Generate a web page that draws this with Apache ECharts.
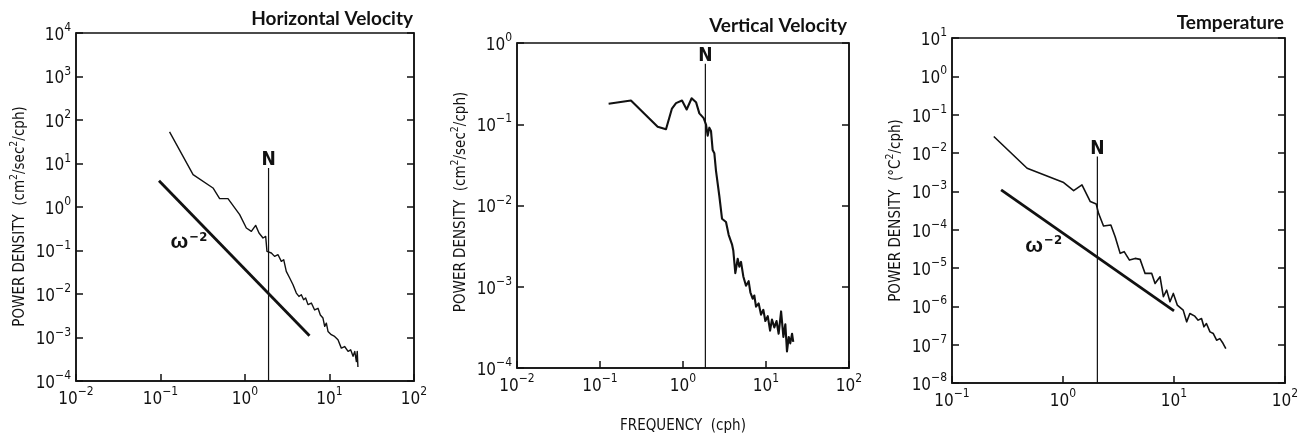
<!DOCTYPE html>
<html>
<head>
<meta charset="utf-8">
<title>Power spectra</title>
<script src="https://cdn.jsdelivr.net/npm/echarts@6/dist/echarts.min.js"></script>
<style>
  html, body { margin: 0; padding: 0; background: #fff; }
  #chart { width: 1309px; height: 439px; }
</style>
</head>
<body>
<div id="chart"></div>
<script>
// ---- Horizontal velocity spectrum (cph, cm^2/sec^2/cph)
const hFreq = [0.128, 0.243, 0.418, 0.501, 0.629, 0.865, 1.037, 1.189, 1.337, 1.465, 1.633, 1.757,
  1.82, 2.05, 2.24, 2.46, 2.69, 2.87, 3.08, 3.38, 3.70, 4.05, 4.35, 4.64, 4.94, 5.22, 5.57, 6.10,
  6.67, 7.31, 7.79, 8.37, 8.77, 9.18, 9.60, 10.5, 11.5, 12.6, 13.8, 15.1, 16.6, 17.8, 19.0, 19.9,
  20.8, 21.3, 21.7];
const hPower = [53.1, 5.55, 2.74, 1.56, 1.56, 0.667, 0.329, 0.275, 0.378, 0.252, 0.194, 0.211,
  0.0955, 0.0875, 0.0733, 0.080, 0.0562, 0.0614, 0.0331, 0.0233, 0.0163, 0.0105, 0.0088, 0.0096,
  0.0074, 0.0081, 0.0057, 0.0062, 0.0043, 0.0047, 0.0033, 0.0028, 0.0018, 0.00214, 0.00138,
  0.00116, 0.00106, 0.00089, 0.00057, 0.00062, 0.00048, 0.00052, 0.00037, 0.00048, 0.00028,
  0.00048, 0.00021];
const hSlopeFreq = [0.096, 5.8];
const hSlopePower = [4.0, 1.1e-3];
const hN = 1.9;
const hNTop = 7.9;

// ---- Vertical velocity spectrum
const vFreq = [0.127, 0.236, 0.495, 0.624, 0.736, 0.824, 0.973, 1.107, 1.271, 1.435, 1.574, 1.774,
  1.893, 1.982, 2.076, 2.174, 2.277, 2.385, 2.498, 2.742, 2.951, 3.297, 3.549, 3.893, 4.04, 4.27,
  4.56, 4.77, 5.00, 5.33, 5.74, 6.18, 6.48, 6.91, 7.23, 7.58, 8.16, 8.71, 9.29, 9.82, 10.5, 11.2,
  11.8, 12.6, 13.4, 14.2, 15.2, 16.2, 17.1, 17.9, 18.8, 19.6, 20.6, 21.3];
const vPower = [0.179, 0.196, 0.0933, 0.0867, 0.156, 0.182, 0.196, 0.152, 0.209, 0.187, 0.136,
  0.119, 0.0993, 0.0723, 0.0908, 0.0828, 0.0481, 0.0440, 0.0267, 0.0130, 0.00687, 0.00627,
  0.00436, 0.00333, 0.00277, 0.00147, 0.00221, 0.00177, 0.00202, 0.00134, 0.00103, 0.00117,
  0.000855, 0.000713, 0.000781, 0.000569, 0.000623, 0.000454, 0.000520, 0.000379, 0.000434,
  0.000288, 0.000396, 0.000316, 0.000379, 0.000264, 0.000497, 0.000241, 0.000346, 0.000160,
  0.000241, 0.000201, 0.000264, 0.000210];
const vN = 1.86;
const vNTop = 0.555;

// ---- Temperature spectrum (cph, degC^2/cph)
const tFreq = [0.238, 0.475, 1.014, 1.247, 1.482, 1.761, 1.992, 2.090, 2.318, 2.698, 2.951, 3.273,
  3.556, 3.970, 4.464, 4.95, 5.49, 6.30, 6.75, 7.48, 8.02, 8.59, 9.20, 9.86, 10.7, 12.1, 13.0,
  13.9, 15.4, 16.5, 17.7, 18.6, 19.6, 21.1, 22.6, 24.2, 25.9, 27.7, 29.3];
const tPower = [0.0269, 0.00401, 0.00169, 0.00104, 0.00147, 0.00054, 0.000469, 0.000267,
  0.000125, 0.000132, 6.56e-5, 2.41e-5, 2.67e-5, 1.61e-5, 1.78e-5, 1.68e-5, 7.23e-6, 7.23e-6,
  3.96e-6, 5.92e-6, 1.78e-6, 2.65e-6, 1.32e-6, 2.17e-6, 1.08e-6, 7.96e-7, 3.94e-7, 6.52e-7,
  5.55e-7, 4.36e-7, 4.82e-7, 2.92e-7, 3.56e-7, 2.16e-7, 1.95e-7, 1.31e-7, 1.44e-7, 1.07e-7, 7.9e-8];
const tSlopeFreq = [0.277, 10];
const tSlopePower = [1.09e-3, 7.6e-7];
const tN = 2.04;
const tNTop = 8.1e-3;

// Axis ranges (cph and power) and text
const xRanges = [[0.01, 100], [0.01, 100], [0.1, 100]];
const yRanges = [[1e-4, 1e4], [1e-4, 1], [1e-8, 10]];
const panelTitles = ['Horizontal Velocity', 'Vertical Velocity', 'Temperature'];
const yNames = [
  '{t|POWER DENSITY  (cm}{s|2}{t|/sec}{s|2}{t|/cph)}',
  '{t|POWER DENSITY  (cm}{s|2}{t|/sec}{s|2}{t|/cph)}',
  '{t|POWER DENSITY  (°C}{s|2}{t|/cph)}'
];
const xName = 'FREQUENCY  (cph)';
const slopeLabelAt = [[0.217, 0.158], null, [0.67, 3.9e-5]];

const NARROW = '"Liberation Sans Narrow", "DejaVu Sans Condensed", "Roboto Condensed", "Liberation Sans", sans-serif';
const INK = '#111';

const grids = [
  { left: 76, top: 33, width: 338, height: 348 },
  { left: 517, top: 43, width: 332, height: 339 },
  { left: 952, top: 38, width: 333, height: 345 }
];
// nudges the rotated y-axis titles along the axis
const yNamePadding = [[0, 19, 0, 0], [0, 0, 0, 7], [0, 0, 0, 0]];

function powLabel(v) {
  const e = Math.round(Math.log10(v));
  return '{b|10}{e|' + (e < 0 ? '\u2212' + (-e) : e) + '}';
}
const powRich = {
  b: { fontSize: 17, fontFamily: NARROW, color: INK, verticalAlign: 'bottom', padding: [5, 0, 0, 0] },
  e: { fontSize: 12, fontFamily: NARROW, color: INK, verticalAlign: 'top' }
};

const LINE = { show: true, onZero: false, lineStyle: { color: INK, width: 1.5 } };
const TICK_IN = { show: true, inside: true, length: 7, lineStyle: { color: INK, width: 1.5 } };

// Per panel: one labelled x axis (bottom), labelled y axis (left) and a bare right y axis
const xAxes = [], yAxes = [], series = [];
grids.forEach((g, i) => {
  g.show = true;
  g.borderColor = INK;
  g.borderWidth = 1.5;
  g.containLabel = false;
  xAxes.push({
    type: 'log', logBase: 10, gridIndex: i, interval: 1,
    min: xRanges[i][0], max: xRanges[i][1],
    position: 'bottom', axisLine: LINE, axisTick: TICK_IN, splitLine: { show: false },
    axisLabel: { formatter: powLabel, rich: powRich, margin: 5, showMinLabel: true, showMaxLabel: true, hideOverlap: false },
    name: i === 1 ? xName : '',
    nameLocation: 'middle', nameGap: 51,
    nameTextStyle: { fontFamily: NARROW, fontSize: 15, color: INK }
  });
  const yCommon = {
    type: 'log', logBase: 10, gridIndex: i, interval: 1,
    min: yRanges[i][0], max: yRanges[i][1],
    axisLine: LINE, axisTick: TICK_IN, splitLine: { show: false }
  };
  yAxes.push(Object.assign({}, yCommon, {
    position: 'left',
    axisLabel: { formatter: powLabel, rich: powRich, margin: 5, showMinLabel: true, showMaxLabel: true, hideOverlap: false },
    name: yNames[i], nameLocation: 'middle', nameRotate: 90, nameGap: 48,
    nameTextStyle: {
      padding: yNamePadding[i],
      rich: {
        t: { fontFamily: NARROW, fontSize: 15, color: INK, verticalAlign: 'bottom', padding: [4, 0, 0, 0] },
        s: { fontFamily: NARROW, fontSize: 10.5, color: INK, verticalAlign: 'top' }
      }
    }
  }));
  yAxes.push(Object.assign({}, yCommon, { position: 'right', axisLabel: { show: false } }));
});

function onPanel(i, s) {
  return Object.assign({ xAxisIndex: i, yAxisIndex: 2 * i, silent: true, animation: false }, s);
}
function lineSeries(i, xs, ys, width) {
  return onPanel(i, {
    type: 'line',
    data: xs.map((x, k) => [x, ys[k]]),
    showSymbol: false, symbol: 'none',
    lineStyle: { color: INK, width: width, join: 'round' },
    z: 3
  });
}
function nSeries(i, n, top, bottom) {
  return onPanel(i, {
    type: 'line',
    data: [[n, bottom], [n, top]],
    symbol: 'none', showSymbol: false,
    lineStyle: { color: INK, width: 1.2 },
    z: 2
  });
}
const markText = { color: INK, opacity: 1, textBorderWidth: 0 };
// "N" marker text sitting on top of the buoyancy-frequency line
function nLabel(i, n, top) {
  return onPanel(i, {
    type: 'scatter',
    data: [[n, top]], symbolSize: 2, itemStyle: { color: 'rgba(0,0,0,0)' },
    label: Object.assign({
      show: true, formatter: 'N', position: 'top', distance: -3,
      fontFamily: NARROW, fontSize: 19, fontWeight: 'bold'
    }, markText),
    z: 4
  });
}

series.push(lineSeries(0, hFreq, hPower, 1.4));
series.push(lineSeries(0, hSlopeFreq, hSlopePower, 2.8));
series.push(nSeries(0, hN, hNTop, yRanges[0][0]));
series.push(nLabel(0, hN, hNTop));
series.push(lineSeries(1, vFreq, vPower, 2.1));
series.push(nSeries(1, vN, vNTop, yRanges[1][0]));
series.push(nLabel(1, vN, vNTop));
series.push(lineSeries(2, tFreq, tPower, 1.6));
series.push(lineSeries(2, tSlopeFreq, tSlopePower, 2.8));
series.push(nSeries(2, tN, tNTop, yRanges[2][0]));
series.push(nLabel(2, tN, tNTop));

// omega^-2 labels beside the slope lines
slopeLabelAt.forEach((p, i) => {
  if (!p) return;
  series.push(onPanel(i, {
    type: 'scatter',
    data: [p], symbolSize: 2, itemStyle: { color: 'rgba(0,0,0,0)' },
    label: Object.assign({
      show: true, position: 'inside',
      formatter: '{w|\u03c9}{s|\u22122}',
      rich: {
        w: { fontFamily: '"Liberation Sans", sans-serif', fontSize: 21, fontWeight: 'bold', color: INK, verticalAlign: 'bottom', padding: [1, 1, 0, 0] },
        s: { fontFamily: NARROW, fontSize: 13, fontWeight: 'bold', color: INK, verticalAlign: 'top' }
      }
    }, markText),
    z: 4
  }));
});

const titles = [
  { text: panelTitles[0], right: 896, top: 9 },
  { text: panelTitles[1], right: 462, top: 16 },
  { text: panelTitles[2], right: 25, top: 13 }
].map(t => Object.assign(t, {
  padding: 0,
  textStyle: { fontFamily: 'Lato, "Open Sans", sans-serif', fontWeight: 'bold', fontSize: 19, color: INK }
}));

const chart = echarts.init(document.getElementById('chart'), null, { renderer: 'canvas' });
chart.setOption({
  animation: false,
  backgroundColor: '#fff',
  title: titles,
  grid: grids,
  xAxis: xAxes,
  yAxis: yAxes,
  series: series
});
</script>
</body>
</html>
